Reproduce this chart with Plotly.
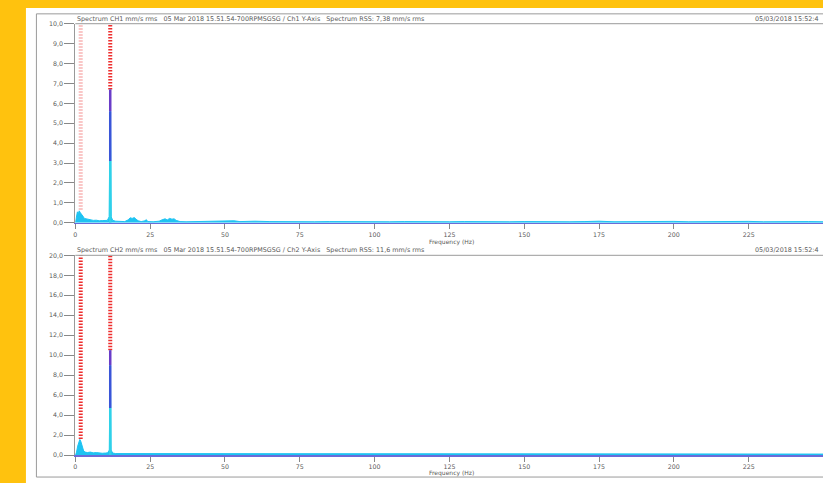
import plotly.graph_objects as go

W, H = 823, 483

# ---------------- data ----------------
ch1_freq = [0, 0.3, 0.7, 1.0, 1.3, 1.7, 2.0, 2.3, 2.7, 3.0, 3.5, 4.0, 5.0, 6.0, 7.0, 8.0, 9.0, 10.0,
            10.7, 11.3, 11.67, 12.0, 12.5, 13.5, 15.0, 16.5, 17.7, 18.3, 19.0, 19.7, 20.3, 21.0, 22.0,
            23.3, 23.7, 24.2, 26.0, 28.0, 29.0, 30.0, 30.7, 31.5, 32.3, 33.0, 33.7, 35.0, 37.0, 40.0,
            45, 50, 53, 55, 60, 65, 70, 75, 80, 85, 90, 95, 100, 105, 110, 115, 120, 125, 130, 135,
            140, 145, 150, 155, 160, 165, 170, 175, 180, 185, 190, 195, 200, 205, 210, 215, 220,
            225, 230, 235, 240, 245, 250]
ch1_amp = [0.0, 0.3, 0.55, 0.45, 0.6, 0.5, 0.45, 0.35, 0.3, 0.22, 0.2, 0.17, 0.15, 0.12, 0.13, 0.1, 0.11, 0.1,
           0.12, 0.3, 6.7, 0.3, 0.12, 0.08, 0.07, 0.06, 0.15, 0.25, 0.22, 0.26, 0.18, 0.1, 0.06,
           0.1, 0.16, 0.06, 0.05, 0.08, 0.15, 0.2, 0.14, 0.22, 0.18, 0.2, 0.12, 0.06, 0.05, 0.06,
           0.05, 0.08, 0.1, 0.06, 0.08, 0.06, 0.05, 0.07, 0.05, 0.06, 0.05, 0.07, 0.06, 0.05, 0.06, 0.05, 0.07, 0.05, 0.06, 0.05,
           0.06, 0.05, 0.06, 0.05, 0.07, 0.05, 0.06, 0.08, 0.05, 0.06, 0.05, 0.06, 0.07, 0.05, 0.06, 0.05, 0.06,
           0.07, 0.05, 0.06, 0.05, 0.06, 0.05]

ch2_freq = [0, 0.4, 0.8, 1.2, 1.5, 1.8, 2.1, 2.4, 2.8, 3.3, 4.0, 5.0, 6.0, 7.0, 8.0, 9.0, 10.0, 10.8,
            11.35, 11.67, 11.95, 12.5, 13.5, 15, 17, 19, 20, 22, 25, 28, 30, 35, 40, 45, 50, 55, 60,
            65, 70, 75, 80, 85, 90, 95, 100, 105, 110, 115, 120, 125, 130, 135, 140, 145, 150, 155,
            160, 165, 170, 175, 180, 185, 190, 195, 200, 205, 210, 215, 220, 225, 230, 235, 240, 245, 250]
ch2_amp = [0.0, 0.3, 0.9, 1.4, 1.56, 1.4, 1.0, 0.6, 0.4, 0.3, 0.25, 0.3, 0.22, 0.25, 0.2, 0.18, 0.2, 0.22,
           0.5, 10.5, 0.5, 0.2, 0.15, 0.15, 0.12, 0.15, 0.1, 0.12, 0.1, 0.15, 0.12, 0.1, 0.12, 0.1, 0.14, 0.1, 0.12,
           0.1, 0.13, 0.1, 0.12, 0.1, 0.1, 0.12, 0.1, 0.1, 0.12, 0.1, 0.1, 0.12, 0.1, 0.1, 0.12, 0.1, 0.1, 0.1,
           0.12, 0.1, 0.1, 0.1, 0.12, 0.1, 0.1, 0.1, 0.12, 0.1, 0.1, 0.1, 0.12, 0.1, 0.12, 0.1, 0.1, 0.12, 0.1]

peak_freq = 11.67
ch1_peak_bands = [0.0, 3.1, 5.6, 6.7]      # cyan / blue / purple
ch2_peak_bands = [0.0, 4.7, 9.0, 10.5]

marker_freqs = [1.8, 11.67]
ch1_marker_ends = [0.65, 6.7]
ch2_marker_ends = [1.6, 10.5]

x_tickvals = [0, 25, 50, 75, 100, 125, 150, 175, 200, 225, 250]
x_ticktext = ["0", "25", "50", "75", "100", "125", "150", "175", "200", "225", "250"]
y1_tickvals = [0, 1, 2, 3, 4, 5, 6, 7, 8, 9, 10]
y1_ticktext = ["0,0", "1,0", "2,0", "3,0", "4,0", "5,0", "6,0", "7,0", "8,0", "9,0", "10,0"]
y2_tickvals = [0, 2, 4, 6, 8, 10, 12, 14, 16, 18, 20]
y2_ticktext = ["0,0", "2,0", "4,0", "6,0", "8,0", "10,0", "12,0", "14,0", "16,0", "18,0", "20,0"]

title1 = "Spectrum CH1 mm/s rms   05 Mar 2018 15.51.54-700RPMSGSG / Ch1 Y-Axis   Spectrum RSS: 7,38 mm/s rms"
title2 = "Spectrum CH2 mm/s rms   05 Mar 2018 15.51.54-700RPMSGSG / Ch2 Y-Axis   Spectrum RSS: 11,6 mm/s rms"
date_text = "05/03/2018 15:52:4"
x_title = "Frequency (Hz)"

# ---------------- styling ----------------
FONT = "DejaVu Sans"
TXT = "#5a5a5a"
CYAN = "#1EC3F2"
BAND_COLORS = ["#2FD2E8", "#3A55D8", "#6A3CC8"]
RED = "#EE2E2E"
YELLOW = "#FFC20E"

def px_x(p):
    return p / W

def px_y(p):
    return (H - p) / H

fig = go.Figure()

def add_panel(xa, ya, freq, amp, bands, marker_ends, marker_colors):
    top = 10 if ya == "y" else 20
    for f, e, c in zip(marker_freqs, marker_ends, marker_colors):
        fig.add_trace(go.Scatter(x=[f, f], y=[e, top], mode="lines", xaxis=xa, yaxis=ya,
                                 line=dict(color=c, width=4, dash="1.5px,1.5px"),
                                 showlegend=False, hoverinfo="skip"))
    fig.add_trace(go.Scatter(x=freq, y=amp, mode="lines", fill="tozeroy", xaxis=xa, yaxis=ya,
                             line=dict(color=CYAN, width=1), fillcolor=CYAN,
                             showlegend=False, hoverinfo="skip"))
    for i in range(3):
        fig.add_trace(go.Scatter(x=[peak_freq, peak_freq], y=[bands[i], bands[i + 1]], mode="lines",
                                 xaxis=xa, yaxis=ya, line=dict(color=BAND_COLORS[i], width=2.5),
                                 showlegend=False, hoverinfo="skip"))

add_panel("x", "y", ch1_freq, ch1_amp, ch1_peak_bands, ch1_marker_ends,
          ["rgba(240,90,90,0.45)", RED])
add_panel("x2", "y2", ch2_freq, ch2_amp, ch2_peak_bands, ch2_marker_ends, [RED, RED])

xdom = [px_x(73.5), 1.0]
xrange = [0, (W - 73.5) / 3.0]
tickfont = dict(family=FONT, size=6.3, color=TXT)

xcommon = dict(domain=xdom, range=xrange, tickvals=x_tickvals, ticktext=x_ticktext,
               showgrid=False, zeroline=False, showline=True, linecolor="#6B6BD8", linewidth=1.5,
               ticks="outside", ticklen=5, tickcolor="#888", tickwidth=1, tickfont=tickfont,
               layer="above traces", fixedrange=True)
ycommon = dict(showgrid=False, zeroline=False, showline=True, linecolor="#999", linewidth=1,
               ticks="outside", ticklen=10, tickcolor="#888", tickwidth=1, tickfont=tickfont,
               fixedrange=True)

fig.update_layout(
    width=W, height=H,
    margin=dict(l=0, r=0, t=0, b=0),
    paper_bgcolor=YELLOW,
    plot_bgcolor="white",
    font=dict(family=FONT, color=TXT),
    xaxis=dict(anchor="y", **xcommon),
    xaxis2=dict(anchor="y2", **xcommon),
    yaxis=dict(anchor="x", domain=[px_y(222), px_y(20)], range=[0, 10],
               tickvals=y1_tickvals, ticktext=y1_ticktext, **ycommon),
    yaxis2=dict(anchor="x2", domain=[px_y(457.7), px_y(255)], range=[0, 20],
                tickvals=y2_tickvals, ticktext=y2_ticktext, **ycommon),
    showlegend=False,
    hovermode=False,
)

fig.add_shape(type="rect", xref="paper", yref="paper", x0=px_x(24), x1=1.02, y0=-0.02, y1=px_y(4),
              fillcolor="white", line=dict(width=0), layer="below")
fig.add_shape(type="rect", xref="paper", yref="paper", x0=px_x(34.5), x1=1.05, y0=px_y(480), y1=px_y(10),
              fillcolor="rgba(0,0,0,0)", line=dict(color="#9a9a9a", width=1), layer="below")
for xr, yr in (("x domain", "y domain"), ("x2 domain", "y2 domain")):
    fig.add_shape(type="line", xref=xr, yref=yr, x0=0, x1=1, y0=1, y1=1,
                  line=dict(color="#9a9a9a", width=1), layer="above")

ann_font = dict(family=FONT, size=6.4, color=TXT)
for t, yp in ((title1, 15), (title2, 250)):
    fig.add_annotation(text=t, xref="paper", yref="paper", x=px_x(73), y=px_y(yp),
                       xanchor="left", yanchor="middle", showarrow=False, font=ann_font)
    fig.add_annotation(text=date_text, xref="paper", yref="paper", x=px_x(821), y=px_y(yp),
                       xanchor="right", yanchor="middle", showarrow=False, font=ann_font)
for yp in (241, 476):
    fig.add_annotation(text=x_title, xref="paper", yref="paper", x=px_x(451), y=px_y(yp),
                       xanchor="center", yanchor="middle", showarrow=False,
                       font=dict(family=FONT, size=6, color=TXT))

fig.write_html("out.html",
               config={"displayModeBar": False, "staticPlot": True},
               post_script="document.body.style.margin='0';document.body.style.background='%s';" % YELLOW)
